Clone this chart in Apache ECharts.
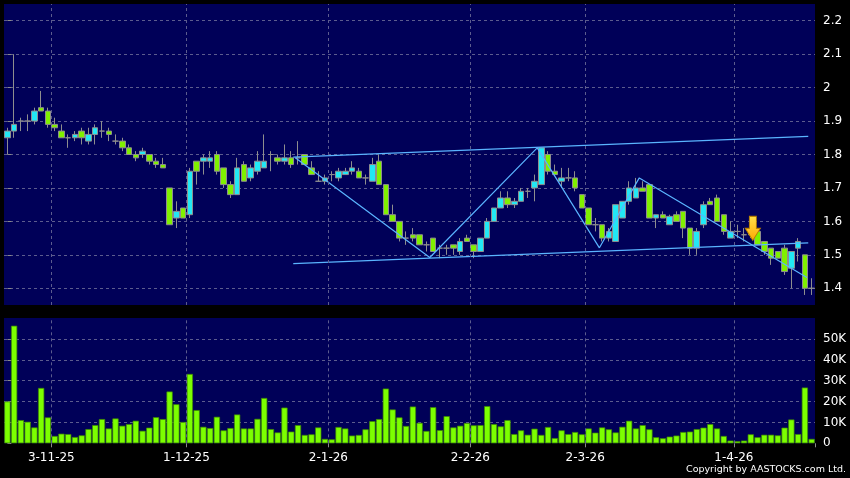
<!DOCTYPE html>
<html><head><meta charset="utf-8">
<script src="https://cdn.jsdelivr.net/npm/echarts@6/dist/echarts.min.js"></script>
<style>html,body{margin:0;padding:0;background:#000;}#c{width:850px;height:478px;}</style>
</head><body><div id="c"></div>
<script>
const dates = ["23-10-25","24-10-25","27-10-25","28-10-25","30-10-25","31-10-25",
"3-11-25","4-11-25","5-11-25","6-11-25","7-11-25","10-11-25","11-11-25","12-11-25","13-11-25","14-11-25","17-11-25","18-11-25","19-11-25","20-11-25","21-11-25","24-11-25","25-11-25","26-11-25","27-11-25","28-11-25",
"1-12-25","2-12-25","3-12-25","4-12-25","5-12-25","8-12-25","9-12-25","10-12-25","11-12-25","12-12-25","15-12-25","16-12-25","17-12-25","18-12-25","19-12-25","22-12-25","23-12-25","24-12-25","29-12-25","30-12-25","31-12-25",
"2-1-26","5-1-26","6-1-26","7-1-26","8-1-26","9-1-26","12-1-26","13-1-26","14-1-26","15-1-26","16-1-26","19-1-26","20-1-26","21-1-26","22-1-26","23-1-26","26-1-26","27-1-26","28-1-26","29-1-26","30-1-26",
"2-2-26","3-2-26","4-2-26","5-2-26","6-2-26","9-2-26","10-2-26","11-2-26","12-2-26","13-2-26","16-2-26","20-2-26","23-2-26","24-2-26","25-2-26","26-2-26","27-2-26",
"2-3-26","3-3-26","4-3-26","5-3-26","6-3-26","9-3-26","10-3-26","11-3-26","12-3-26","13-3-26","16-3-26","17-3-26","18-3-26","19-3-26","20-3-26","23-3-26","24-3-26","25-3-26","26-3-26","27-3-26","30-3-26","31-3-26",
"1-4-26","2-4-26","8-4-26","9-4-26","10-4-26","13-4-26","14-4-26","15-4-26","16-4-26","17-4-26","20-4-26","21-4-26","22-4-26"];

const opens = [1.85,1.87,1.90,1.90,1.90,1.94,1.93,1.89,1.87,1.85,1.85,1.87,1.84,1.86,1.87,1.87,1.84,1.84,1.82,1.80,
1.80,1.80,1.78,1.77,1.70,1.61,1.64,1.62,1.78,1.78,1.78,1.80,1.76,1.71,1.68,1.77,1.73,1.75,1.76,1.80,
1.79,1.78,1.79,1.79,1.80,1.76,1.72,1.72,1.74,1.73,1.74,1.75,1.75,1.73,1.72,1.78,1.71,1.62,1.60,1.55,
1.56,1.56,1.53,1.55,1.52,1.52,1.53,1.51,1.55,1.53,1.51,1.55,1.60,1.64,1.67,1.65,1.66,1.69,1.70,1.71,
1.80,1.75,1.72,1.73,1.73,1.68,1.64,1.59,1.59,1.55,1.54,1.61,1.66,1.67,1.70,1.71,1.61,1.62,1.59,1.62,
1.63,1.58,1.52,1.59,1.66,1.67,1.62,1.55,1.57,1.56,1.56,1.57,1.54,1.52,1.51,1.52,1.46,1.52,1.50,1.40];
const closes = [1.87,1.89,1.90,1.90,1.93,1.93,1.89,1.88,1.85,1.85,1.86,1.85,1.86,1.88,1.87,1.86,1.84,1.82,1.80,1.79,
1.81,1.78,1.77,1.76,1.59,1.63,1.61,1.75,1.75,1.79,1.79,1.75,1.71,1.68,1.76,1.72,1.76,1.78,1.78,1.80,
1.78,1.79,1.77,1.79,1.77,1.74,1.72,1.73,1.74,1.75,1.75,1.76,1.73,1.73,1.77,1.71,1.62,1.60,1.55,1.55,
1.55,1.53,1.53,1.51,1.52,1.52,1.52,1.54,1.54,1.51,1.55,1.60,1.64,1.67,1.65,1.66,1.69,1.69,1.72,1.82,
1.75,1.74,1.73,1.73,1.70,1.64,1.59,1.59,1.55,1.57,1.65,1.66,1.70,1.70,1.69,1.61,1.62,1.61,1.615,1.60,
1.58,1.52,1.57,1.65,1.65,1.60,1.57,1.57,1.57,1.56,1.57,1.53,1.51,1.49,1.49,1.45,1.51,1.54,1.40,1.40];
const lows = [1.80,1.85,1.87,1.87,1.89,1.93,1.88,1.87,1.85,1.82,1.84,1.83,1.83,1.83,1.85,1.84,1.83,1.81,1.80,1.78,
1.79,1.77,1.76,1.76,1.59,1.58,1.61,1.61,1.71,1.74,1.76,1.74,1.70,1.67,1.68,1.72,1.72,1.74,1.76,1.75,
1.77,1.77,1.76,1.77,1.77,1.74,1.72,1.71,1.72,1.72,1.74,1.74,1.73,1.71,1.72,1.71,1.62,1.60,1.54,1.53,
1.54,1.53,1.51,1.51,1.49,1.50,1.50,1.50,1.54,1.49,1.51,1.55,1.60,1.64,1.64,1.64,1.66,1.67,1.66,1.71,
1.74,1.74,1.70,1.72,1.69,1.64,1.59,1.57,1.54,1.54,1.54,1.61,1.65,1.67,1.69,1.61,1.58,1.61,1.59,1.60,
1.55,1.50,1.50,1.58,1.65,1.60,1.56,1.55,1.55,1.54,1.55,1.53,1.50,1.47,1.49,1.44,1.40,1.48,1.38,1.38];
const highs = [1.88,2.10,1.91,1.92,1.94,1.99,1.94,1.91,1.89,1.86,1.87,1.88,1.88,1.89,1.90,1.88,1.86,1.85,1.83,1.81,
1.82,1.80,1.79,1.79,1.70,1.66,1.64,1.76,1.78,1.80,1.81,1.81,1.76,1.72,1.79,1.78,1.77,1.81,1.86,1.81,
1.80,1.83,1.81,1.84,1.80,1.78,1.75,1.74,1.75,1.76,1.76,1.78,1.76,1.74,1.79,1.80,1.71,1.65,1.60,1.57,
1.58,1.56,1.54,1.55,1.53,1.53,1.53,1.55,1.56,1.53,1.55,1.61,1.64,1.69,1.69,1.67,1.70,1.70,1.74,1.82,
1.81,1.77,1.76,1.76,1.75,1.68,1.64,1.61,1.59,1.58,1.65,1.66,1.72,1.73,1.72,1.71,1.62,1.63,1.62,1.63,
1.63,1.58,1.58,1.66,1.67,1.68,1.62,1.60,1.59,1.58,1.58,1.57,1.54,1.52,1.51,1.53,1.51,1.55,1.50,1.43];
const volumes = [20000,56300,11100,10300,7600,26500,12400,3500,4600,4400,3000,3800,6800,8700,11600,7100,11900,8400,9200,10800,
6000,7500,12500,11600,24800,18700,10200,33200,15900,7900,7300,12700,6200,7300,13800,7100,7100,11700,21700,6800,
5200,17100,5600,8700,4000,4300,7600,2100,1900,7800,7100,3700,4000,6700,10600,11600,26200,16200,12400,8300,
17600,9800,5900,17300,6300,13000,7600,8400,9700,8600,8700,17800,9200,8100,11100,4400,6200,4100,7000,4000,
7800,2500,6200,4400,5400,4300,7100,5100,7600,6700,5200,7900,10800,7100,8700,6700,2900,2400,3200,3700,
5400,5600,6800,7500,9200,7100,3500,1300,1000,1300,4300,2900,4100,4100,3800,7500,11400,4400,26700,2100];

const tickLabels = ["3-11-25","1-12-25","2-1-26","2-2-26","2-3-26","1-4-26"];
// trend lines, x in trading-day index units
const upperChannel = [[42.3, 1.792], [118.5, 1.854]];
const lowerChannel = [[42.3, 1.474], [118.5, 1.536]];
const zigzag = [[42.6, 1.79], [62.5, 1.492], [78.4, 1.82], [87.6, 1.521], [93.5, 1.73], [118.3, 1.432]];
const arrowMark = [[110.3, 1.579]];

const N = dates.length;
const tickIdx = tickLabels.map(d => dates.indexOf(d));
const gridX = tickIdx.map(i => i + 0.5);
const candles = opens.map((o, i) => [o, closes[i], lows[i], highs[i]]);
const bandW = 811 / N;
const FONT = 'DejaVu Sans';
const gridLineStyle = { color: '#5c5c8e', type: [3, 3], width: 1 };
const trendStyle = { color: '#5ab4ff', width: 1.2 };

const chart = echarts.init(document.getElementById('c'), null, { renderer: 'canvas' });
chart.setOption({
  backgroundColor: '#000',
  animation: false,
  grid: [
    { left: 4, right: 35, top: 4, height: 301, show: true, backgroundColor: '#000058', borderWidth: 0 },
    { left: 4, right: 35, top: 318, height: 125.3, show: true, backgroundColor: '#000058', borderWidth: 0 }
  ],
  xAxis: [
    { type: 'category', gridIndex: 0, data: dates, boundaryGap: true,
      axisLine: { show: false }, axisTick: { show: false }, axisLabel: { show: false }, splitLine: { show: false } },
    { type: 'category', gridIndex: 1, data: dates, boundaryGap: true,
      axisLine: { show: false },
      axisTick: { show: true, length: 4, lineStyle: { color: '#8a8a8a' }, interval: (i) => tickIdx.includes(i - 1) },
      axisLabel: { interval: (i) => tickIdx.includes(i), color: '#fff', fontFamily: FONT, fontSize: 12, margin: 9,
                   padding: [0, 0, 0, bandW] },
      splitLine: { show: false } },
    { type: 'value', gridIndex: 0, min: -0.5, max: N - 0.5, show: false },
    { type: 'value', gridIndex: 1, min: -0.5, max: N - 0.5, show: false }
  ],
  yAxis: [
    { type: 'value', gridIndex: 0, position: 'right', min: 1.35, max: 2.25, splitNumber: 9,
      axisLine: { show: false }, axisTick: { show: true, length: 4, lineStyle: { color: '#8a8a8a' } },
      axisLabel: { color: '#fff', fontFamily: FONT, fontSize: 12, margin: 8, showMinLabel: false, showMaxLabel: false,
                   formatter: v => String(+v.toFixed(1)) },
      splitLine: { show: true, showMinLine: false, showMaxLine: false, lineStyle: gridLineStyle } },
    { type: 'value', gridIndex: 1, position: 'right', min: 0, max: 60000, interval: 10000,
      axisLine: { show: false }, axisTick: { show: true, length: 4, lineStyle: { color: '#8a8a8a' } },
      axisLabel: { color: '#fff', fontFamily: FONT, fontSize: 12, margin: 8, showMaxLabel: false,
                   formatter: v => v === 0 ? '0' : (v / 1000) + 'K' },
      splitLine: { show: true, showMinLine: false, showMaxLine: false, lineStyle: gridLineStyle } }
  ],
  series: [
    { type: 'line', xAxisIndex: 2, yAxisIndex: 0, data: [[0, 1.35]], symbol: 'none', lineStyle: { width: 0, opacity: 0 }, z: 1, silent: true,
      markLine: { silent: true, symbol: ['none', 'none'], label: { show: false }, lineStyle: gridLineStyle,
                  data: gridX.map(x => ({ xAxis: x })) } },
    { type: 'line', xAxisIndex: 3, yAxisIndex: 1, data: [[0, 0]], symbol: 'none', lineStyle: { width: 0, opacity: 0 }, z: 1, silent: true,
      markLine: { silent: true, symbol: ['none', 'none'], label: { show: false }, lineStyle: gridLineStyle,
                  data: gridX.map(x => ({ xAxis: x })) } },
    { type: 'candlestick', xAxisIndex: 0, yAxisIndex: 0, data: candles, barWidth: 6, z: 2,
      itemStyle: { color: '#22e8f5', color0: '#80f000', borderColor: '#8e8e8e', borderColor0: '#8e8e8e', borderColorDoji: '#8e8e8e', borderWidth: 1 } },
    { type: 'bar', xAxisIndex: 1, yAxisIndex: 1, data: volumes, barWidth: 6.2, z: 2,
      itemStyle: { color: '#7cff00', borderColor: '#3f8a00', borderWidth: 0.7 } },
    { type: 'line', xAxisIndex: 2, yAxisIndex: 0, data: upperChannel, symbol: 'none', lineStyle: trendStyle, z: 3, silent: true },
    { type: 'line', xAxisIndex: 2, yAxisIndex: 0, data: lowerChannel, symbol: 'none', lineStyle: trendStyle, z: 3, silent: true },
    { type: 'line', xAxisIndex: 2, yAxisIndex: 0, data: zigzag, symbol: 'none', lineStyle: trendStyle, z: 3, silent: true },
    { type: 'scatter', xAxisIndex: 2, yAxisIndex: 0, data: arrowMark, z: 5, silent: true,
      symbol: 'path://M4,0 L11,0 L11,12 L15,12 L7.5,24 L0,12 L4,12 Z', symbolSize: [15, 24],
      itemStyle: { color: new echarts.graphic.LinearGradient(0, 0, 0, 1, [{ offset: 0, color: '#ffe04a' }, { offset: 1, color: '#ffa800' }]),
                   borderColor: '#b98000', borderWidth: 1, opacity: 1 } }
  ],
  graphic: [
    { type: 'text', right: 4, top: 465, style: { text: 'Copyright by AASTOCKS.com Ltd.', fill: '#fff', fontFamily: FONT, fontSize: 9.5 } }
  ]
});
</script></body></html>
